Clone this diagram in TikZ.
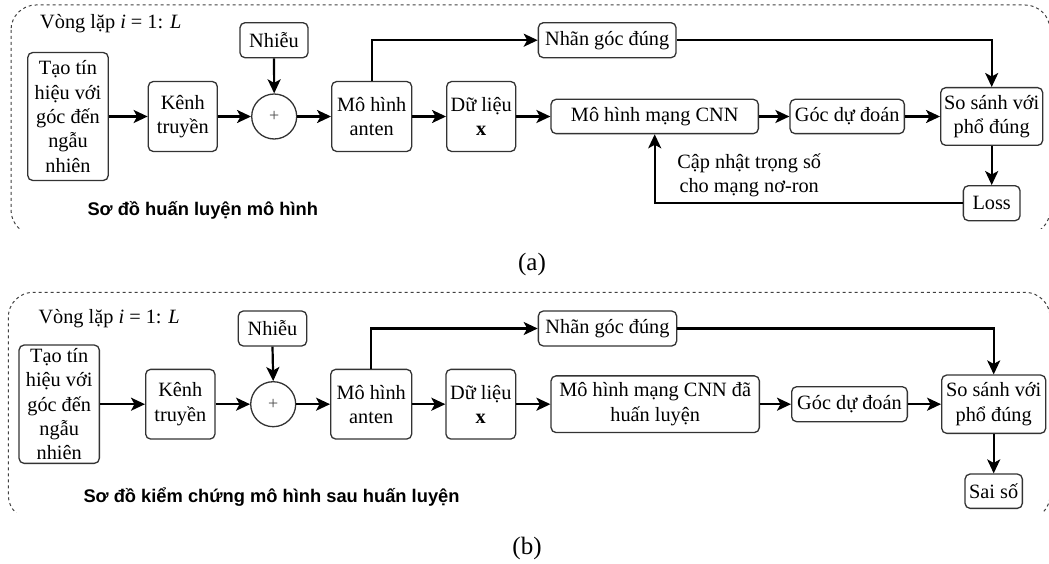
\documentclass[tikz,border=0pt]{standalone}
\usepackage{fontspec}
\setmainfont{Liberation Serif}
\newfontfamily\labelsans{Liberation Sans}
\usetikzlibrary{arrows.meta}
\definecolor{boxline}{HTML}{333333}
\definecolor{dashline}{HTML}{404040}
\begin{document}
\begin{tikzpicture}[x=1pt,y=-1pt,
  every node/.style={font=\fontsize{20.3}{24.3}\selectfont},
  box/.style={draw=boxline, line width=1.3pt, rounded corners=5pt, align=center, inner sep=0pt},
  summ/.style={draw=boxline, line width=1.3pt, circle, minimum size=45pt, inner sep=0pt, font=\fontsize{18}{18}\selectfont, text=black!70},
  conn/.style={line width=2.2pt, -{Stealth[length=14pt,width=13pt,inset=3.5pt]}},
  frame/.style={draw=dashline, line width=1pt, dash pattern=on 3pt off 3pt, rounded corners=25pt},
  plain/.style={inner sep=0pt, align=center},
  sanslabel/.style={inner sep=0pt, anchor=west, font=\labelsans\bfseries\fontsize{18.3}{22}\selectfont},
  subcap/.style={inner sep=0pt, font=\fontsize{25}{27}\selectfont},
]
\useasboundingbox (0,0) rectangle (1049,564);

% ---------------- panel (a) ----------------
\begin{scope}
\clip (0,0) rectangle (1049,228);
\draw[frame] (11,5) rectangle (1050,235);
\end{scope}

\node[plain, anchor=west] (titleA) at (40,24) {Vòng lặp \textit{i} = 1: \textit{L}};
\node[box, minimum width=80.5pt, minimum height=128pt] (taoA) at (68,116.5) {Tạo tín\\hiệu với\\góc đến\\ngẫu\\nhiên};
\node[box, minimum width=69pt, minimum height=70pt] (kenhA) at (182.8,116.5) {Kênh\\truyền};
\node[summ] (plusA) at (274.2,116.5) {+};
\node[box, minimum width=68pt, minimum height=35pt] (nhieuA) at (274,40.2) {Nhiễu};
\node[box, minimum width=80pt, minimum height=70pt] (antenA) at (371.7,116.5) {Mô hình\\anten};
\node[box, minimum width=69pt, minimum height=70pt] (dlA) at (481.2,116.5) {Dữ liệu\\\textbf{x}};
\node[box, minimum width=137.7pt, minimum height=35pt] (nhanA) at (607.2,40.2) {Nhãn góc đúng};
\node[box, minimum width=207.3pt, minimum height=34.3pt] (cnnA) at (654.7,116.5) {Mô hình mạng CNN};
\node[box, minimum width=114.3pt, minimum height=34.3pt] (gocA) at (847.2,116.5) {Góc dự đoán};
\node[box, minimum width=102pt, minimum height=57.7pt] (ssA) at (991.7,116.5) {So sánh với\\phổ đúng};
\node[box, minimum width=56.7pt, minimum height=35pt] (lossA) at (991.7,203.2) {Loss};
\node[plain] (updA) at (749.2,175.5) {Cập nhật trọng số\\cho mạng nơ-ron};
\node[sanslabel] (capA) at (87.3,210) {Sơ đồ huấn luyện mô hình};
\node[subcap] (subA) at (532,264) {(a)};

\draw[conn] (taoA.east) -- (kenhA.west);
\draw[conn] (kenhA.east) -- (plusA.west);
\draw[conn] (nhieuA.south) -- (plusA.north);
\draw[conn] (plusA.east) -- (antenA.west);
\draw[conn] (antenA.east) -- (dlA.west);
\draw[conn] (dlA.east) -- (cnnA.west);
\draw[conn] (cnnA.east) -- (gocA.west);
\draw[conn] (gocA.east) -- (ssA.west);
\draw[conn] (antenA.north) |- (nhanA.west);
\draw[conn] (nhanA.east) -| (ssA.north);
\draw[conn] (ssA.south) -- (lossA.north);
\draw[conn] (lossA.west) -| (cnnA.south);

% ---------------- panel (b) ----------------
\begin{scope}
\clip (0,285) rectangle (1049,512);
\draw[frame] (8.3,292.3) rectangle (1050,520);
\end{scope}

\node[plain, anchor=west] (titleB) at (38.3,318.3) {Vòng lặp \textit{i} = 1: \textit{L}};
\node[box, minimum width=80.3pt, minimum height=118.3pt] (taoB) at (59.2,404.2) {Tạo tín\\hiệu với\\góc đến\\ngẫu\\nhiên};
\node[box, minimum width=69.3pt, minimum height=69.7pt] (kenhB) at (180.3,404.2) {Kênh\\truyền};
\node[summ] (plusB) at (273.2,404.2) {+};
\node[box, minimum width=68.4pt, minimum height=35pt] (nhieuB) at (272.5,328.5) {Nhiễu};
\node[box, minimum width=81pt, minimum height=69.7pt] (antenB) at (371.2,404.2) {Mô hình\\anten};
\node[box, minimum width=69.7pt, minimum height=69.7pt] (dlB) at (480.8,404.2) {Dữ liệu\\\textbf{x}};
\node[box, minimum width=138.3pt, minimum height=35pt] (nhanB) at (607.5,328.5) {Nhãn góc đúng};
\node[box, minimum width=208.3pt, minimum height=56.7pt] (cnnB) at (655.2,404.2) {Mô hình mạng CNN đã\\huấn luyện};
\node[box, minimum width=115.7pt, minimum height=35pt] (gocB) at (849.5,404.2) {Góc dự đoán};
\node[box, minimum width=104pt, minimum height=58.3pt] (ssB) at (993.7,404.2) {So sánh với\\phổ đúng};
\node[box, minimum width=57.3pt, minimum height=34.3pt] (saiB) at (993.7,491.2) {Sai số};
\node[sanslabel] (capB) at (83.3,496.7) {Sơ đồ kiểm chứng mô hình sau huấn luyện};
\node[subcap] (subB) at (527,548) {(b)};

\draw[conn] (taoB.east) -- (kenhB.west);
\draw[conn] (kenhB.east) -- (plusB.west);
\draw[conn] (nhieuB.south) -- (plusB.north);
\draw[conn] (plusB.east) -- (antenB.west);
\draw[conn] (antenB.east) -- (dlB.west);
\draw[conn] (dlB.east) -- (cnnB.west);
\draw[conn] (cnnB.east) -- (gocB.west);
\draw[conn] (gocB.east) -- (ssB.west);
\draw[conn] (antenB.north) |- (nhanB.west);
\draw[conn] (nhanB.east) -| (ssB.north);
\draw[conn] (ssB.south) -- (saiB.north);
\end{tikzpicture}
\end{document}
